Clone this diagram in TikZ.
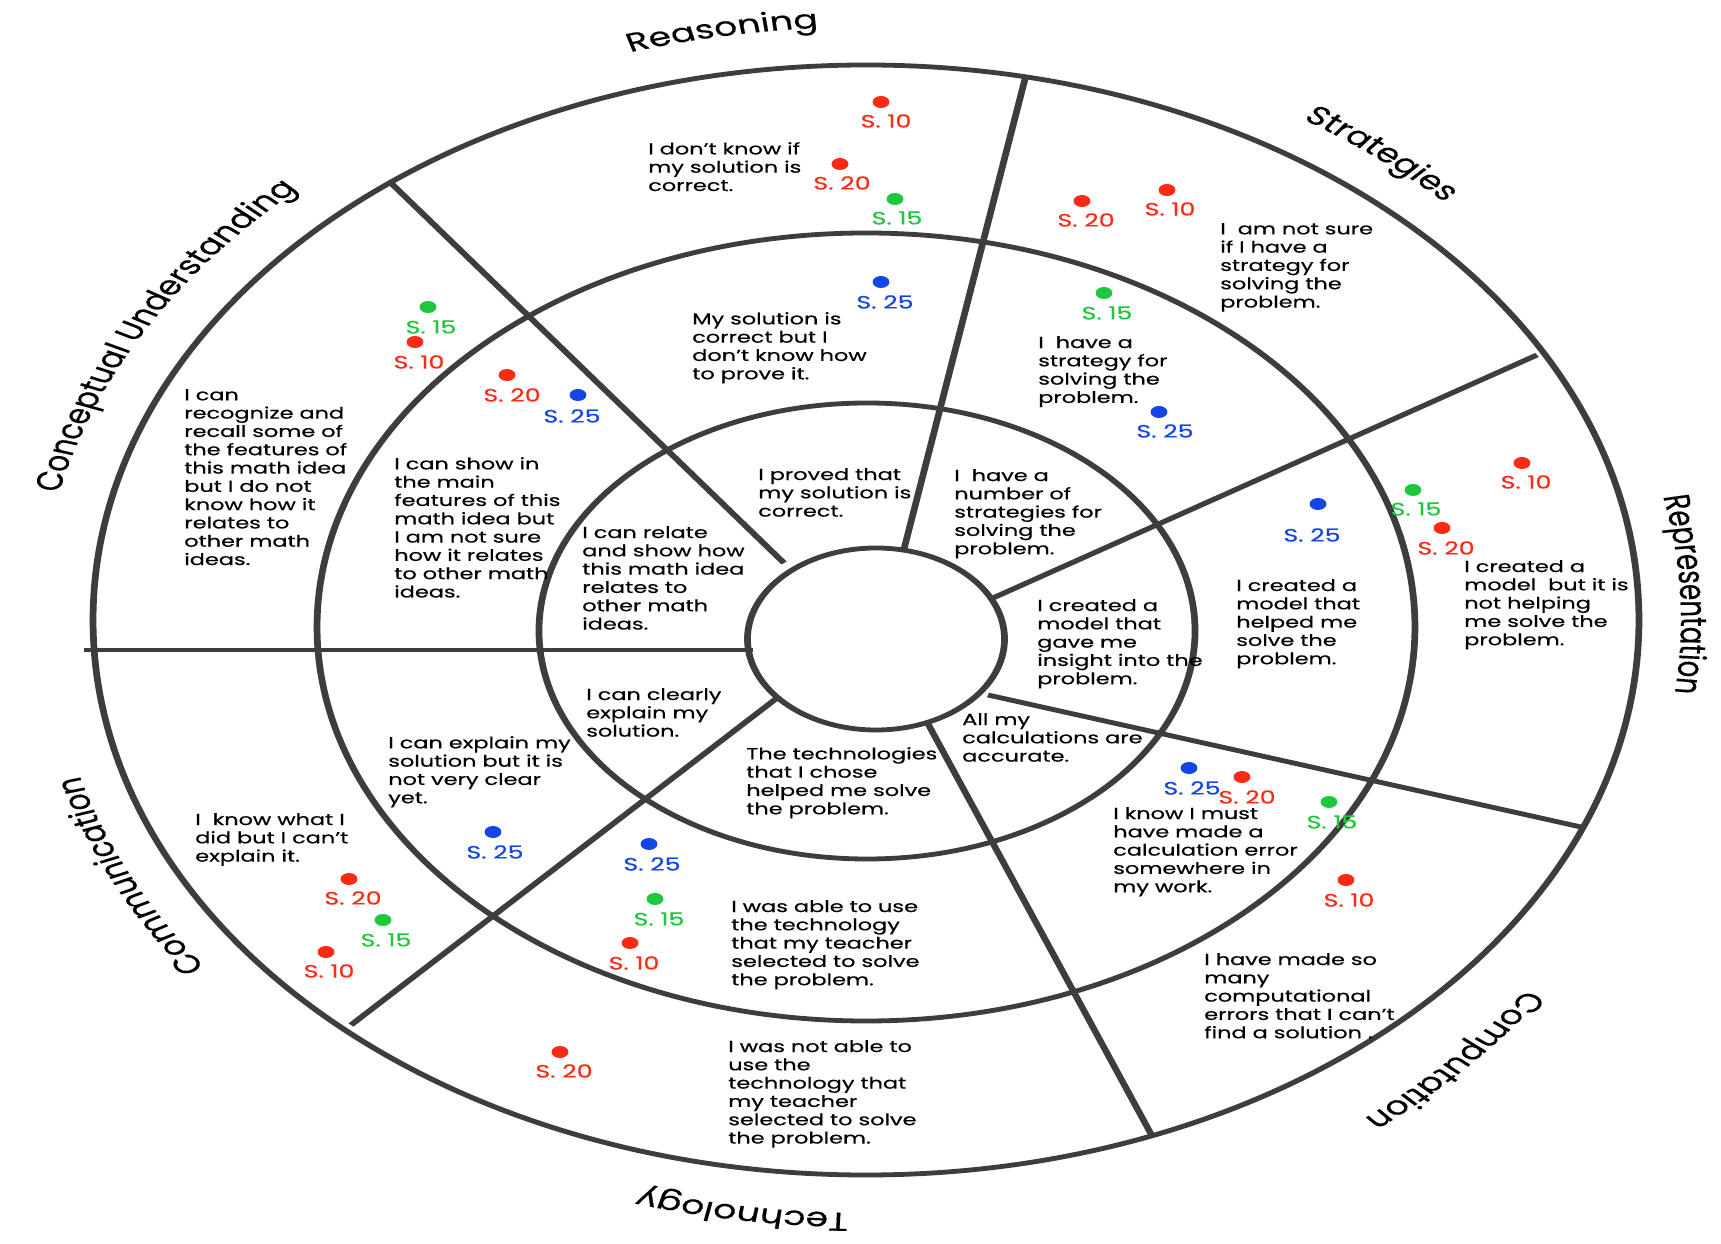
\documentclass[tikz,border=0pt]{standalone}
\usepackage{fontspec}
\setmainfont{Poppins}[FakeBold=0.35]
\usetikzlibrary{decorations.text}
\definecolor{ln}{HTML}{3D3D3D}
\definecolor{sred}{HTML}{FF2A14}
\definecolor{sgreen}{HTML}{1EC83C}
\definecolor{sblue}{HTML}{1446E6}
\newcommand\ttlfont{\fontsize{26bp}{30bp}\selectfont}
\tikzset{
  ring/.style={draw=ln, line width=4.8bp},
  spoke/.style={draw=ln, line width=4.8bp},
  desc/.style={anchor=north west, inner sep=0pt, align=left, font=\fontsize{16bp}{18.3bp}\selectfont},
  slab/.style={inner sep=0pt, font=\fontsize{18bp}{20bp}\selectfont},
  dot/.style={circle, inner sep=0pt, minimum size=12bp},
  ttl/.style={decorate, decoration={text along path, text align=center, text={|\ttlfont|#1}}}
}
\begin{document}
\begin{tikzpicture}[x=1bp,y=1bp]
\useasboundingbox[fill=white] (0,0) rectangle (1721,1243);
\begin{scope}[transform canvas={xscale=1.4}, x={(0.714286bp,0)}, y={(0,1bp)}]
% rings
\draw[ring] (876,604) ellipse [x radius=91.8bp, y radius=91bp];
\draw[ring] (867,612) ellipse [x radius=234.3bp, y radius=228bp];
\draw[ring] (866,616) ellipse [x radius=392.1bp, y radius=394bp];
\draw[ring] (866,623) ellipse [x radius=552.1bp, y radius=555bp];
% spokes
\coordinate (a1) at (392,1059); \coordinate (b1) at (784,680);
\coordinate (a2) at (1025,1164); \coordinate (b2) at (904,694);
\coordinate (a3) at (1537,888); \coordinate (b3) at (993,645);
\coordinate (a4) at (1581,416); \coordinate (b4) at (988,548);
\coordinate (a5) at (1151,109); \coordinate (b5) at (927,521);
\coordinate (a6) at (351,218); \coordinate (b6) at (777,545);
\coordinate (a7) at (84,593); \coordinate (b7) at (753,593);
\foreach \i in {1,...,7} {\draw[spoke] (a\i) -- (b\i);}
% titles
\path[ttl=Reasoning] ([shift={(140:582.14bp and 593bp)}]866,623) arc[start angle=140, end angle=60, x radius=582.14bp, y radius=593bp];
\path[ttl=Strategies] ([shift={(91.4:582.14bp and 593bp)}]866,623) arc[start angle=91.4, end angle=11.4, x radius=582.14bp, y radius=593bp];
\path[ttl=Representation] ([shift={(42.5:582.14bp and 593bp)}]866,623) arc[start angle=42.5, end angle=-37.5, x radius=582.14bp, y radius=593bp];
\path[ttl=Computation] ([shift={(-5:582.14bp and 630bp)}]866,623) arc[start angle=-5, end angle=-85, x radius=582.14bp, y radius=630bp];
\path[ttl=Technology] ([shift={(-58.6:582.14bp and 593bp)}]866,623) arc[start angle=-58.6, end angle=-138.6, x radius=582.14bp, y radius=593bp];
\path[ttl=Communication] ([shift={(245.7:582.14bp and 593bp)}]866,623) arc[start angle=245.7, end angle=165.7, x radius=582.14bp, y radius=593bp];
\path[ttl=Conceptual Understanding] ([shift={(190.5:590bp and 593bp)}]866,623) arc[start angle=190.5, end angle=110.5, x radius=590bp, y radius=593bp];
% descriptions
\node[desc] (t1) at (648,1101) {I don't know if\\my solution is\\correct.};
\node[desc] (t2) at (692,931) {My solution is\\correct but I\\don't know how\\to prove it.};
\node[desc] (t3) at (758,775) {I proved that\\my solution is\\correct.};
\node[desc] (t4) at (184,854) {I can\\recognize and\\recall some of\\the features of\\this math idea\\but I do not\\know how it\\relates to\\other math\\ideas.};
\node[desc] (t5) at (394,786) {I can show in\\the main\\features of this\\math idea but\\I am not sure\\how it relates\\to other math\\ideas.};
\node[desc] (t6) at (582,717) {I can relate\\and show how\\this math idea\\relates to\\other math\\ideas.};
\node[desc] (t7) at (1220,1020) {I~ am not sure\\if I have a\\strategy for\\solving the\\problem.};
\node[desc] (t8) at (1038,907) {I~ have a\\strategy for\\solving the\\problem.};
\node[desc] (t9) at (954,774) {I~ have a\\number of\\strategies for\\solving the\\problem.};
\node[desc] (t10) at (1464,683) {I created a\\model~ but it is\\not helping\\me solve the\\problem.};
\node[desc] (t11) at (1236,664) {I created a\\model that\\helped me\\solve the\\problem.};
\node[desc] (t12) at (1037,644) {I created a\\model that\\gave me\\insight into the\\problem.};
\node[desc] (t13) at (962,530) {All my\\calculations are\\accurate.};
\node[desc] (t14) at (1113,436) {I know I must\\have made a\\calculation error\\somewhere in\\my work.};
\node[desc] (t15) at (1204,290) {I have made so\\many\\computational\\errors that I can't\\find a solution .};
\node[desc] (t16) at (746,496) {The technologies\\that I chose\\helped me solve\\the problem.};
\node[desc] (t17) at (731,343) {I was able to use\\the technology\\that my teacher\\selected to solve\\the problem.};
\node[desc] (t18) at (728,203) {I was not able to\\use the\\technology that\\my teacher\\selected to solve\\the problem.};
\node[desc] (t19) at (586,555) {I can clearly\\explain my\\solution.};
\node[desc] (t20) at (388,507) {I can explain my\\solution but it is\\not very clear\\yet.};
\node[desc] (t21) at (195,430) {I~ know what I\\did but I can't\\explain it.};
% student markers
\foreach \nm/\col/\dx/\dy/\lx/\ly/\txt in {
 rr10/sred/881/1141/886/1122/S. 10, rr20/sred/840/1079/842/1060/S. 20,
 rg15/sgreen/895/1044/897/1025/S. 15, rb25/sblue/881/961/885/941/S. 25,
 cg15/sgreen/428/936/431/916/S. 15, cr10/sred/415/901/419/881/S. 10,
 cr20/sred/507/868/512/848/S. 20, cb25/sblue/578/848/572/827/S. 25,
 sr20/sred/1082/1042/1086/1023/S. 20, sr10/sred/1167/1053/1170/1034/S. 10,
 sg15/sgreen/1104/950/1107/930/S. 15, sb25/sblue/1159/831/1165/812/S. 25,
 pb25/sblue/1318/739/1312/708/S. 25, pg15/sgreen/1413/753/1416/734/S. 15,
 pr20/sred/1442/715/1446/695/S. 20, pr10/sred/1522/780/1526/761/S. 10,
 mb25/sblue/1189/475/1192/455/S. 25, mr20/sred/1242/466/1247/446/S. 20,
 mg15/sgreen/1329/441/1332/421/S. 15, mr10/sred/1346/363/1349/343/S. 10,
 tb25/sblue/649/399/652/379/S. 25, tg15/sgreen/655/344/659/324/S. 15,
 tr10/sred/630/300/634/280/S. 10, tr20/sred/560/191/564/172/S. 20,
 ob25/sblue/493/411/495/391/S. 25, or20/sred/349/364/353/345/S. 20,
 og15/sgreen/383/323/386/303/S. 15, or10/sred/326/291/329/272/S. 10}
 {\node[dot, fill=\col] (\nm) at (\dx,\dy) {};
  \node[slab, text=\col] (\nm-l) at (\lx,\ly) {\txt};}
\end{scope}
\end{tikzpicture}
\end{document}
